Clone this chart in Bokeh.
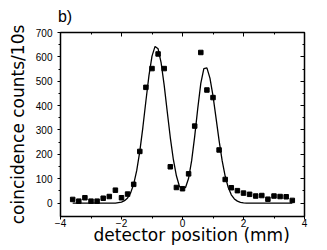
from bokeh.plotting import figure
from bokeh.models import Range1d, LinearAxis, FixedTicker
from bokeh.embed import file_html
from bokeh.resources import INLINE

# measured data (detector position in mm, coincidence counts / 10 s)
pos_mm = [-3.6, -3.4, -3.2, -3.0, -2.8, -2.6, -2.4, -2.2, -2.0, -1.8, -1.6, -1.4, -1.2,
          -1.0, -0.8, -0.6, -0.4, -0.2, 0.0, 0.2, 0.4, 0.6, 0.8, 1.0, 1.2, 1.4, 1.6,
          1.8, 2.0, 2.2, 2.4, 2.6, 2.8, 3.0, 3.2, 3.4, 3.6]
counts = [15, 8, 22, 8, 8, 20, 27, 53, 22, 37, 77, 212, 475,
          552, 612, 552, 149, 64, 59, 120, 316, 618, 464, 433, 218, 97, 63,
          51, 41, 36, 29, 31, 16, 29, 27, 26, 11]

# fitted curve
fit_x = [-3.6, -2.2, -2.1, -2.0, -1.9, -1.8, -1.7, -1.6, -1.5, -1.4, -1.3, -1.2, -1.1,
         -1.0, -0.9, -0.8, -0.7, -0.6, -0.5, -0.4, -0.3, -0.2, -0.1, 0.0, 0.1, 0.2,
         0.3, 0.4, 0.5, 0.6, 0.7, 0.8, 0.9, 1.0, 1.1, 1.2, 1.3, 1.4, 1.5, 1.6, 1.7,
         1.8, 1.9, 2.0, 2.1, 3.6]
fit_y = [0, 0, 2, 4, 10, 21, 42, 78, 134, 212, 310, 419, 523,
         603, 643, 633, 575, 483, 375, 269, 179, 112, 68, 58, 64, 102,
         174, 274, 388, 491, 552, 555, 513, 440, 349, 256, 174, 110, 64, 34, 17,
         8, 3, 1, 0, 0]

x_major = [-4, -2, 0, 2, 4]
x_minor = [-3, -1, 1, 3]
y_major = [0, 100, 200, 300, 400, 500, 600, 700]
y_minor = [50, 150, 250, 350, 450, 550, 650]

panel_label = "b)"
panel_label_at = -3.85
x_title = "detector position (mm)"
x_title_at = 0.3
y_title = "coincidence counts/10s"

p = figure(width=327, height=250, output_backend="svg", toolbar_location=None,
           x_range=Range1d(-4, 4), y_range=Range1d(-55, 700),
           min_border_left=60, min_border_right=23, min_border_top=32,
           min_border_bottom=34, x_axis_location=None, y_axis_location=None)
p.grid.visible = False
p.outline_line_color = "black"
p.outline_line_width = 1.5
p.background_fill_color = "white"
p.border_fill_color = "white"


def make_axis(ticks, minor, outside, labels):
    ax = LinearAxis(ticker=FixedTicker(ticks=ticks, minor_ticks=minor))
    ax.axis_line_color = None
    ax.major_tick_line_color = "black"
    ax.minor_tick_line_color = "black"
    ax.major_tick_line_width = 1
    ax.minor_tick_line_width = 1
    if outside:
        ax.major_tick_out = 3
        ax.major_tick_in = 0
        ax.minor_tick_out = 2
        ax.minor_tick_in = 0
    else:
        ax.major_tick_out = 0
        ax.major_tick_in = 4
        ax.minor_tick_out = 0
        ax.minor_tick_in = 2
    if labels:
        ax.major_label_text_font = "Liberation Sans"
        ax.major_label_text_font_size = "10px"
        ax.major_label_text_color = "black"
    else:
        ax.major_label_text_color = None
    return ax


def text_axis(at, text, font, size, standoff):
    # a tick-less axis whose single label is a piece of free text
    ax = LinearAxis(ticker=FixedTicker(ticks=[at], minor_ticks=[]))
    ax.major_label_overrides = {at: text}
    ax.axis_line_color = None
    ax.major_tick_line_color = None
    ax.minor_tick_line_color = None
    ax.major_tick_in = 0
    ax.major_tick_out = 0
    ax.major_label_standoff = standoff
    ax.major_label_text_font = font
    ax.major_label_text_font_size = size
    ax.major_label_text_color = "black"
    return ax


bottom = make_axis(x_major, x_minor, True, True)
bottom.major_label_standoff = -1
left = make_axis(y_major, y_minor, True, True)
left.major_label_standoff = 5
left.axis_label = y_title
left.axis_label_text_font = "DejaVu Sans"
left.axis_label_text_font_size = "17px"
left.axis_label_text_font_style = "normal"
left.axis_label_text_color = "black"
left.axis_label_standoff = 5
top = make_axis(x_major, x_minor, False, False)
right = make_axis(y_major, y_minor, False, False)

xlab = text_axis(x_title_at, x_title, "DejaVu Sans", "17px", -5)
blab = text_axis(panel_label_at, panel_label, "Liberation Sans", "16px", 8)

p.add_layout(bottom, "below")
p.add_layout(xlab, "below")
p.add_layout(left, "left")
p.add_layout(top, "above")
p.add_layout(blab, "above")
p.add_layout(right, "right")

p.line(fit_x, fit_y, line_color="black", line_width=1.3)
p.scatter(pos_mm, counts, marker="square", size=4.5, fill_color="black", line_color="black")

open("out.html", "w").write(file_html(p, INLINE))
